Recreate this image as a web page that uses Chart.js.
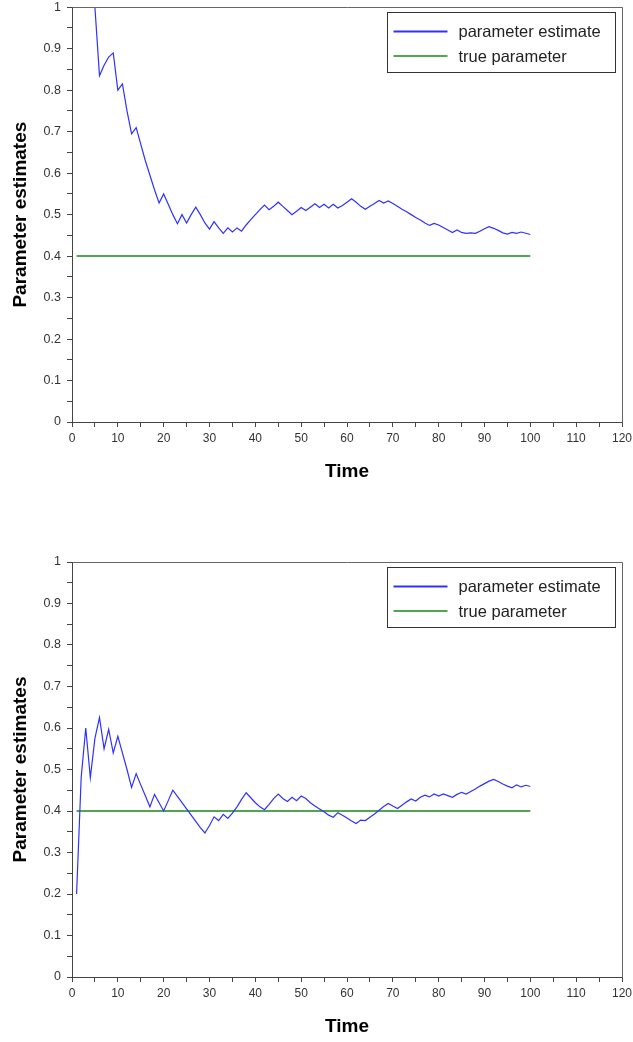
<!DOCTYPE html>
<html>
<head>
<meta charset="utf-8">
<script src="https://cdn.jsdelivr.net/npm/chart.js@4.4.1/dist/chart.umd.min.js"></script>
<style>
  body { margin: 0; background: #fff; overflow: hidden; }
  #wrap { position: relative; width: 633px; height: 1042px; overflow: hidden; }
  canvas { position: absolute; left: 0; }
</style>
</head>
<body>
<div id="wrap">
  <canvas id="chartTop" width="633" height="495" style="top:-5px"></canvas>
  <canvas id="chartBottom" width="633" height="502" style="top:540px"></canvas>
</div>
<script>
// time steps
var times = [1,2,3,4,5,6,7,8,9,10,11,12,13,14,15,16,17,18,19,20,
  21,22,23,24,25,26,27,28,29,30,31,32,33,34,35,36,37,38,39,40,
  41,42,43,44,45,46,47,48,49,50,51,52,53,54,55,56,57,58,59,60,
  61,62,63,64,65,66,67,68,69,70,71,72,73,74,75,76,77,78,79,80,
  81,82,83,84,85,86,87,88,89,90,91,92,93,94,95,96,97,98,99,100];

// first run (values before t=5 lie above the plotted range)
var estimateTop = [null,null,null,null,1.0,0.835,0.86,0.88,0.89,0.80,
  0.815,0.75,0.695,0.71,0.67,0.63,0.595,0.56,0.528,0.55,
  0.525,0.50,0.478,0.50,0.48,0.50,0.518,0.50,0.48,0.465,
  0.483,0.468,0.455,0.468,0.458,0.468,0.46,0.475,0.488,0.50,
  0.512,0.523,0.512,0.52,0.53,0.52,0.51,0.50,0.508,0.517,
  0.51,0.518,0.526,0.517,0.525,0.516,0.525,0.516,0.522,0.53,
  0.538,0.53,0.52,0.513,0.52,0.527,0.534,0.528,0.533,0.527,
  0.52,0.513,0.507,0.50,0.493,0.487,0.48,0.474,0.479,0.475,
  0.469,0.463,0.457,0.463,0.457,0.455,0.456,0.455,0.46,0.466,
  0.471,0.467,0.462,0.456,0.453,0.457,0.455,0.458,0.455,0.452];

// second run
var estimateBottom = [0.2,0.48,0.6,0.48,0.575,0.625,0.55,0.597,0.54,0.58,
  0.54,0.50,0.457,0.49,0.463,0.437,0.41,0.44,0.42,0.40,
  0.425,0.45,0.435,0.42,0.405,0.39,0.375,0.36,0.347,0.365,
  0.386,0.377,0.392,0.382,0.395,0.41,0.428,0.444,0.432,0.42,
  0.41,0.403,0.416,0.43,0.441,0.43,0.423,0.433,0.425,0.436,
  0.43,0.42,0.412,0.405,0.398,0.39,0.385,0.396,0.39,0.383,
  0.376,0.37,0.378,0.377,0.385,0.393,0.402,0.411,0.418,0.412,
  0.406,0.414,0.422,0.429,0.424,0.433,0.438,0.434,0.441,0.436,
  0.441,0.437,0.433,0.44,0.445,0.441,0.447,0.453,0.46,0.466,
  0.472,0.476,0.471,0.465,0.46,0.456,0.463,0.458,0.462,0.459];

var trueTimes = [1, 100];
var trueValues = [0.4, 0.4];

var seriesLabels = ['parameter estimate', 'true parameter'];
var xTitle = 'Time';
var yTitle = 'Parameter estimates';

var FONT = '"Liberation Sans", Arial, sans-serif';

function pairs(xs, ys) {
    var out = [];
    for (var i = 0; i < xs.length; i++) out.push({ x: xs[i], y: ys[i] });
    return out;
}

// box round the plot (top and right side)
var framePlugin = {
    id: 'frame',
    afterDatasetsDraw: function(chart) {
        var a = chart.chartArea, ctx = chart.ctx;
        ctx.save();
        ctx.strokeStyle = '#666';
        ctx.lineWidth = 1;
        ctx.beginPath();
        ctx.moveTo(Math.round(a.left) + 0.5, Math.round(a.top) + 0.5);
        ctx.lineTo(Math.round(a.right) + 0.5, Math.round(a.top) + 0.5);
        ctx.lineTo(Math.round(a.right) + 0.5, Math.round(a.bottom) + 0.5);
        ctx.stroke();
        ctx.restore();
    }
};

// legend inside the plot, top right
var boxLegend = {
    id: 'boxLegend',
    afterDraw: function(chart) {
        var a = chart.chartArea, ctx = chart.ctx;
        var w = 228, h = 60;
        var left = Math.round(a.right - 7 - w) + 0.5;
        var top = Math.round(a.top + 5) + 0.5;
        ctx.save();
        ctx.fillStyle = '#fff';
        ctx.fillRect(left, top, w, h);
        ctx.strokeStyle = '#333';
        ctx.lineWidth = 1;
        ctx.strokeRect(left, top, w, h);
        ctx.font = '16.5px ' + FONT;
        ctx.textBaseline = 'middle';
        ctx.textAlign = 'left';
        chart.data.datasets.forEach(function(ds, i) {
            var y = top + 19 + i * 24.5;
            ctx.strokeStyle = ds.borderColor;
            ctx.lineWidth = 2;
            ctx.beginPath();
            ctx.moveTo(left + 6, y);
            ctx.lineTo(left + 60, y);
            ctx.stroke();
            ctx.fillStyle = '#222';
            ctx.fillText(ds.label, left + 71, y + 1);
        });
        ctx.restore();
    }
};

function makeChart(id, values, padTop, plotBottom) {
    var canvas = document.getElementById(id);
    var H = canvas.height;
    var xAxisHeight = H - plotBottom;
    var titleGap = H - (plotBottom + 50) - 11.4;

    return new Chart(canvas.getContext('2d'), {
        type: 'line',
        data: {
            datasets: [{
                label: seriesLabels[0],
                data: pairs(times, values),
                borderColor: '#3030ff',
                borderWidth: 1.2,
                pointRadius: 0,
                tension: 0
            }, {
                label: seriesLabels[1],
                data: pairs(trueTimes, trueValues),
                borderColor: '#4fa84f',
                borderWidth: 2,
                pointRadius: 0,
                tension: 0
            }]
        },
        options: {
            responsive: false,
            animation: false,
            devicePixelRatio: 1,
            layout: { padding: { left: 0, right: 11, top: padTop, bottom: 0 } },
            plugins: {
                legend: { display: false },
                tooltip: { enabled: false }
            },
            scales: {
                x: {
                    type: 'linear',
                    min: 0,
                    max: 120,
                    afterFit: function(scale) {
                        scale.height = xAxisHeight;
                        scale.paddingRight = 0;
                        scale.paddingLeft = 0;
                    },
                    border: { display: true, color: '#444', width: 1 },
                    grid: { drawOnChartArea: false, drawTicks: true, tickLength: 5, color: '#444' },
                    ticks: {
                        stepSize: 5,
                        autoSkip: false,
                        maxRotation: 0,
                        padding: 6,
                        color: '#333',
                        font: { family: FONT, size: 12, lineHeight: 1 },
                        callback: function(v) { return (Math.round(v) % 10 === 0) ? String(Math.round(v)) : ''; }
                    },
                    title: {
                        display: true,
                        text: xTitle,
                        color: '#000',
                        font: { family: FONT, size: 19, weight: 'bold', lineHeight: 1.2 },
                        padding: { top: 0, bottom: titleGap }
                    }
                },
                y: {
                    type: 'linear',
                    min: 0,
                    max: 1,
                    afterFit: function(scale) { scale.width = 72; },
                    border: { display: true, color: '#444', width: 1 },
                    grid: { drawOnChartArea: false, drawTicks: true, tickLength: 5, color: '#444' },
                    ticks: {
                        stepSize: 0.05,
                        autoSkip: false,
                        padding: 6,
                        color: '#333',
                        font: { family: FONT, size: 12.5, lineHeight: 1 },
                        callback: function(v) {
                            var k = Math.round(v * 100);
                            if (k % 10 !== 0) return '';
                            return String(k / 100);
                        }
                    },
                    title: {
                        display: true,
                        text: yTitle,
                        color: '#000',
                        font: { family: FONT, size: 19, weight: 'bold', lineHeight: 1.2 },
                        padding: { top: 9.5, bottom: 0 }
                    }
                }
            }
        },
        plugins: [framePlugin, boxLegend]
    });
}

makeChart('chartTop', estimateTop, 7, 427);
makeChart('chartBottom', estimateBottom, 22, 437);
</script>
</body>
</html>
